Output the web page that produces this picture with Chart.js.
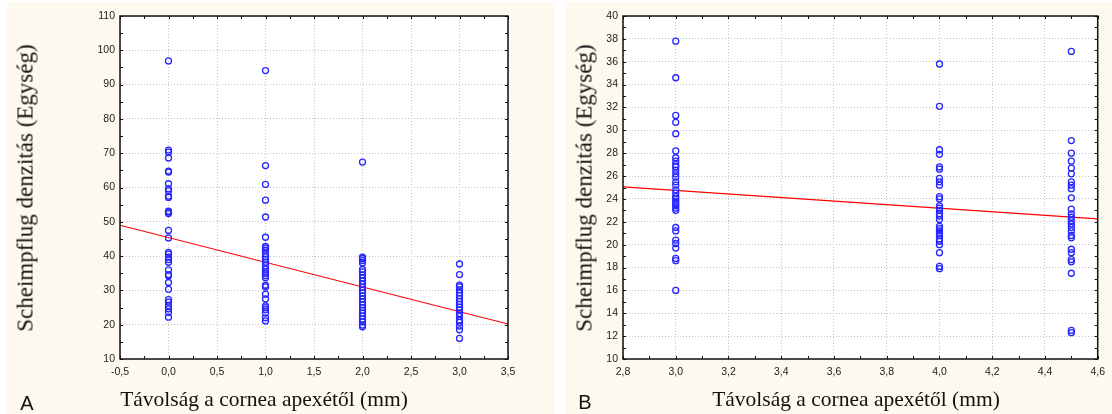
<!DOCTYPE html>
<html><head><meta charset="utf-8">
<script src="https://cdn.jsdelivr.net/npm/chart.js@4.4.1/dist/chart.umd.min.js"></script>
<style>
html,body{margin:0;padding:0;background:#fff;}
#wrap{position:relative;width:1112px;height:414px;overflow:hidden;background:#fff;}
.panel{position:absolute;background:#fdf9ee;}
canvas{position:absolute;top:0;}
.ytitle,.xtitle{position:absolute;font-family:"Liberation Serif","Times New Roman",serif;color:#111;white-space:nowrap;line-height:1;}
.ytitle{font-size:23px;transform:translate(-50%,-50%) rotate(-90deg);}
.xtitle{font-size:21.5px;transform:translate(-50%,-50%);}
.tag{position:absolute;font-family:"Liberation Sans",Arial,sans-serif;font-size:20px;color:#111;line-height:1;transform:translate(-50%,-50%);}
</style>
</head><body>
<div id="wrap">
  <div class="panel" style="left:7px;top:2px;width:548px;height:412px;"></div>
  <div class="panel" style="left:565px;top:2px;width:547px;height:412px;"></div>
  <div style="position:absolute;left:0;top:0;width:556px;height:414px;"><canvas id="cA" width="556" height="414"></canvas></div>
  <div style="position:absolute;left:556px;top:0;width:556px;height:414px;"><canvas id="cB" width="556" height="414"></canvas></div>
  <div class="ytitle" style="left:25px;top:188px;">Scheimpflug denzitás (Egység)</div>
  <div class="ytitle" style="left:584px;top:188px;">Scheimpflug denzitás (Egység)</div>
  <div class="xtitle" style="left:264px;top:400px;">Távolság a cornea apexétől (mm)</div>
  <div class="xtitle" style="left:856px;top:400px;">Távolság a cornea apexétől (mm)</div>
  <div class="tag" style="left:27px;top:403px;">A</div>
  <div class="tag" style="left:585px;top:402px;">B</div>
</div>
<script>
// ---- Chart A data ----
const xA = [0, 1, 2, 3];
const yA0 = [96.9, 70.9, 70.3, 68.6, 64.8, 64.5, 61.1, 59.6, 59.0, 57.5, 57.1, 53.1, 52.8, 52.4, 47.5, 45.3, 41.1, 40.6, 39.7, 39.0, 38.2, 36.0, 34.6, 34.3, 32.3, 30.3, 27.3, 26.6, 25.5, 24.6, 23.6, 22.2];
const yA1 = [94.1, 66.4, 60.9, 56.3, 51.4, 45.5, 42.8, 42.3, 41.7, 40.6, 39.8, 39.1, 38.2, 37.2, 36.2, 35.5, 35.0, 34.3, 33.7, 31.5, 31.0, 28.9, 27.5, 25.5, 25.0, 24.4, 23.4, 22.0, 21.1];
const yA2 = [67.4, 39.7, 39.3, 38.7, 38.0, 36.1, 35.4, 34.5, 33.6, 32.7, 31.8, 30.9, 30.0, 29.2, 28.4, 27.5, 26.6, 25.8, 25.0, 24.2, 23.4, 22.5, 21.6, 20.8, 19.9, 19.4];
const yA3 = [37.7, 34.6, 31.5, 31.0, 30.2, 29.3, 28.5, 27.6, 26.7, 25.9, 25.1, 24.3, 23.3, 22.4, 21.3, 20.7, 19.6, 18.5, 16.0];
const fitAx = [-0.5, 3.5];
const fitAy = [49.0, 20.2];
const xTickValsA = [-0.5, 0, 0.5, 1, 1.5, 2, 2.5, 3, 3.5];
const xTickLabelsA = ['-0,5', '0,0', '0,5', '1,0', '1,5', '2,0', '2,5', '3,0', '3,5'];
const yTickValsA = [10, 20, 30, 40, 50, 60, 70, 80, 90, 100, 110];
const yTickLabelsA = ['10', '20', '30', '40', '50', '60', '70', '80', '90', '100', '110'];

// ---- Chart B data ----
const xB = [3.0, 4.0, 4.5];
const yB0 = [37.8, 34.6, 31.3, 30.7, 29.7, 28.2, 27.6, 27.3, 27.0, 26.8, 26.5, 26.2, 25.9, 25.5, 25.2, 24.8, 24.5, 24.2, 24.0, 23.8, 23.6, 23.4, 23.2, 23.0, 21.5, 21.2, 20.4, 20.1, 19.7, 18.8, 18.6, 16.0];
const yB1 = [35.8, 32.1, 28.3, 27.9, 26.8, 26.6, 25.8, 25.5, 25.2, 24.2, 24.0, 23.4, 23.2, 23.0, 22.7, 22.5, 22.2, 21.6, 21.4, 21.2, 21.0, 20.8, 20.5, 20.3, 20.0, 19.3, 18.1, 17.9];
const yB2 = [36.9, 29.1, 28.0, 27.3, 26.7, 26.2, 25.5, 25.2, 24.9, 24.1, 23.1, 22.7, 22.4, 22.1, 21.8, 21.5, 21.2, 20.8, 20.6, 19.6, 19.3, 18.7, 18.5, 17.5, 12.5, 12.3];
const fitBx = [2.8, 4.6];
const fitBy = [25.05, 22.25];
const xTickValsB = [2.8, 3.0, 3.2, 3.4, 3.6, 3.8, 4.0, 4.2, 4.4, 4.6];
const xTickLabelsB = ['2,8', '3,0', '3,2', '3,4', '3,6', '3,8', '4,0', '4,2', '4,4', '4,6'];
const yTickValsB = [10, 12, 14, 16, 18, 20, 22, 24, 26, 28, 30, 32, 34, 36, 38, 40];
const yTickLabelsB = ['10', '12', '14', '16', '18', '20', '22', '24', '26', '28', '30', '32', '34', '36', '38', '40'];

const POINT_COLOR = '#2626ff';
const LINE_COLOR = '#ff0000';

function pts(xs, cols) {
  const out = [];
  cols.forEach((col, i) => col.forEach(v => out.push({x: xs[i], y: v})));
  return out;
}
function linePts(xs, ys) { return xs.map((x, i) => ({x, y: ys[i]})); }

const framePlugin = {
  id: 'frame',
  beforeDraw(chart) {
    const {ctx, chartArea: a} = chart;
    ctx.save();
    ctx.fillStyle = '#ffffff';
    ctx.fillRect(a.left, a.top, a.right - a.left, a.bottom - a.top);
    ctx.restore();
  },
  afterDraw(chart, args, opts) {
    const {ctx, chartArea: a, scales: {x, y}} = chart;
    ctx.save();
    ctx.strokeStyle = '#111';
    ctx.lineWidth = 1;
    ctx.beginPath();
    const L = 3;
    const nx = Math.round((x.max - x.min) / opts.xMinor);
    for (let i = 0; i <= nx; i++) {
      const px = Math.round(x.getPixelForValue(x.min + i * opts.xMinor)) + 0.5;
      ctx.moveTo(px, a.bottom); ctx.lineTo(px, a.bottom - L);
      ctx.moveTo(px, a.top); ctx.lineTo(px, a.top + L);
    }
    const ny = Math.round((y.max - y.min) / opts.yMinor);
    for (let i = 0; i <= ny; i++) {
      const py = Math.round(y.getPixelForValue(y.min + i * opts.yMinor)) + 0.5;
      ctx.moveTo(a.left, py); ctx.lineTo(a.left + L, py);
      ctx.moveTo(a.right, py); ctx.lineTo(a.right - L, py);
    }
    ctx.stroke();
    ctx.lineWidth = 1.5;
    ctx.strokeStyle = '#111';
    ctx.strokeRect(a.left, a.top, a.right - a.left, a.bottom - a.top);
    ctx.restore();
  }
};

function build(id, cfg) {
  const tickFont = {family: '"Liberation Sans", Arial, sans-serif', size: 10.5};
  return new Chart(document.getElementById(id), {
    type: 'scatter',
    data: {
      datasets: [
        {
          data: cfg.points,
          showLine: false,
          pointStyle: 'circle',
          pointRadius: 3,
          pointBorderWidth: 1.3,
          pointBorderColor: POINT_COLOR,
          pointBackgroundColor: 'rgba(0,0,0,0)',
          borderColor: POINT_COLOR,
          backgroundColor: 'rgba(0,0,0,0)'
        },
        {
          data: cfg.fit,
          showLine: true,
          borderColor: LINE_COLOR,
          borderWidth: 1.2,
          pointRadius: 0,
          fill: false
        }
      ]
    },
    options: {
      responsive: false,
      animation: false,
      events: [],
      layout: {padding: {left: 0, right: cfg.padRight, top: 16, bottom: 0}},
      plugins: {
        legend: {display: false},
        tooltip: {enabled: false},
        frame: {xMinor: cfg.xMinor, yMinor: cfg.yMinor}
      },
      scales: {
        x: {
          type: 'linear',
          min: cfg.xVals[0],
          max: cfg.xVals[cfg.xVals.length - 1],
          afterBuildTicks: s => { s.ticks = cfg.xVals.map(v => ({value: v})); },
          afterFit: s => { s.height = 55; },
          ticks: {
            font: tickFont, color: '#222', padding: 7, maxRotation: 0, autoSkip: false,
            callback: (v, i) => cfg.xLabels[i]
          },
          grid: {color: '#c4c4c4', lineWidth: 1, drawTicks: false},
          border: {display: false, dash: [1, 2]}
        },
        y: {
          type: 'linear',
          min: cfg.yVals[0],
          max: cfg.yVals[cfg.yVals.length - 1],
          afterBuildTicks: s => { s.ticks = cfg.yVals.map(v => ({value: v})); },
          afterFit: s => { s.width = cfg.yWidth; },
          ticks: {
            font: tickFont, color: '#222', padding: 5, autoSkip: false,
            callback: (v, i) => cfg.yLabels[i]
          },
          grid: {color: '#c4c4c4', lineWidth: 1, drawTicks: false},
          border: {display: false, dash: [1, 2]}
        }
      }
    },
    plugins: [framePlugin]
  });
}

build('cA', {
  points: pts(xA, [yA0, yA1, yA2, yA3]),
  fit: linePts(fitAx, fitAy),
  xVals: xTickValsA, xLabels: xTickLabelsA,
  yVals: yTickValsA, yLabels: yTickLabelsA,
  yWidth: 120, padRight: 48, xMinor: 0.25, yMinor: 5
});
build('cB', {
  points: pts(xB, [yB0, yB1, yB2]),
  fit: linePts(fitBx, fitBy),
  xVals: xTickValsB, xLabels: xTickLabelsB,
  yVals: yTickValsB, yLabels: yTickLabelsB,
  yWidth: 67, padRight: 9, xMinor: 0.1, yMinor: 1
});
</script>
</body></html>
